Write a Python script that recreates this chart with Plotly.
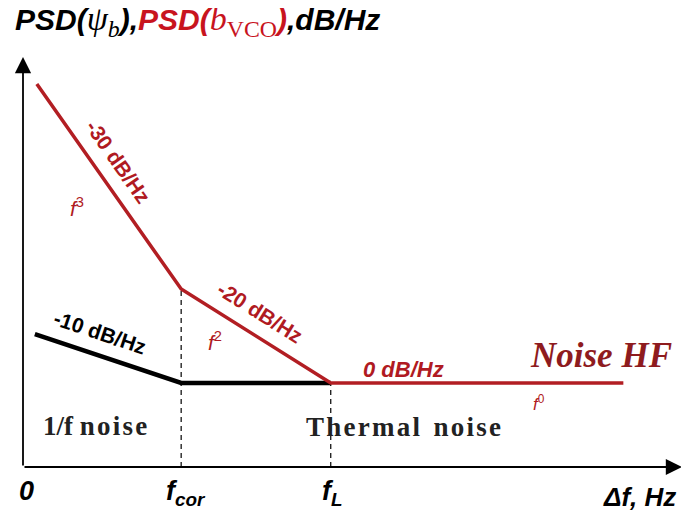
import plotly.graph_objects as go

# --- data (abstract units: x = frequency offset, y = PSD level) ---
red_x = [2.1, 24.0, 46.7, 91.1]
red_y = [93.4, 43.4, 20.5, 20.5]
black_x = [1.8, 24.0, 46.7]
black_y = [32.4, 20.5, 20.5]
f_cor = 24.0
f_L = 46.7
x_max = 100
y_max = 100

RED = "#B21E23"
TXT_RED = "#B01A22"
DARK_RED = "#8E1B1E"

fig = go.Figure()

# dashed verticals
fig.add_trace(go.Scatter(x=[f_cor, f_cor], y=[0, red_y[1]], mode="lines",
                         line=dict(color="black", width=1.2, dash="5px,4px"),
                         hoverinfo="skip", showlegend=False))
fig.add_trace(go.Scatter(x=[f_L, f_L], y=[0, red_y[2]], mode="lines",
                         line=dict(color="black", width=1.2, dash="5px,4px"),
                         hoverinfo="skip", showlegend=False))
# black PSD(psi_b)
fig.add_trace(go.Scatter(x=black_x, y=black_y, mode="lines",
                         line=dict(color="black", width=4.5),
                         hoverinfo="skip", showlegend=False))
# red PSD(b_VCO)
fig.add_trace(go.Scatter(x=red_x, y=red_y, mode="lines",
                         line=dict(color=RED, width=3.5),
                         hoverinfo="skip", showlegend=False))

ann = []
# axes arrows
ann.append(dict(x=x_max, y=0, ax=0, ay=0, xref="x", yref="y", axref="x", ayref="y",
                showarrow=True, arrowhead=2, arrowsize=1.8, arrowwidth=1.8,
                arrowcolor="black", text=""))
ann.append(dict(x=0, y=y_max, ax=0, ay=0, xref="x", yref="y", axref="x", ayref="y",
                showarrow=True, arrowhead=2, arrowsize=1.8, arrowwidth=1.8,
                arrowcolor="black", text=""))

sans_b = dict(family="Arial, Liberation Sans", size=21)
HS = "\u200a"
ann += [
    dict(x=14.4, y=74.4, text="<b>-30 dB/Hz</b>", textangle=55,
         font=dict(sans_b, color=TXT_RED)),
    dict(x=36.0, y=37.6, text="<b>-20 dB/Hz</b>", textangle=32,
         font=dict(sans_b, color=TXT_RED)),
    dict(x=11.7, y=32.7, text="<b>-10 dB/Hz</b>", textangle=18.5,
         font=dict(sans_b, color="black")),
    dict(x=57.7, y=23.9, text="<b><i>0 dB/Hz</i></b>",
         font=dict(family="Arial, Liberation Sans", size=22, color=TXT_RED)),
    dict(x=8.2, y=63.4, text="<i>f</i><sup>3</sup>",
         font=dict(family="Arial, Liberation Sans", size=21, color=TXT_RED)),
    dict(x=29.1, y=30.7, text="<i>f</i><sup>2</sup>",
         font=dict(family="Arial, Liberation Sans", size=21, color=TXT_RED)),
    dict(x=78.3, y=15.6, text="<i>f</i><sup>0</sup>",
         font=dict(family="Arial, Liberation Sans", size=17, color=TXT_RED)),
    dict(x=87.7, y=27.3, text="<b><i>Noise HF</i></b>",
         font=dict(family="Liberation Serif, Times New Roman", size=35, color=DARK_RED)),
    dict(x=10.9, y=10.0, text="<b>1/f " + HS.join("noise") + "</b>",
         font=dict(family="Liberation Serif, Times New Roman", size=27, color="#222222")),
    dict(x=57.7, y=9.8,
         text="<b>" + HS.join("Thermal") + "  " + HS.join("noise") + "</b>",
         font=dict(family="Liberation Serif, Times New Roman", size=27, color="#222222")),
    # axis tick labels
    dict(x=0.6, y=0, yshift=-24, text="<b><i>0</i></b>",
         font=dict(family="Arial, Liberation Sans", size=27, color="black")),
    dict(x=f_cor, y=0, yshift=-26, xshift=5, text="<b><i>f<sub>cor</sub></i></b>",
         font=dict(family="Arial, Liberation Sans", size=27, color="black")),
    dict(x=f_L, y=0, yshift=-26, xshift=2, text="<b><i>f<sub>L</sub></i></b>",
         font=dict(family="Arial, Liberation Sans", size=27, color="black")),
    dict(x=93.6, y=0, yshift=-30, text="<b><i>\u0394f, Hz</i></b>",
         font=dict(family="Arial, Liberation Sans", size=26, color="black")),
]
for a in ann:
    a.setdefault("xref", "x")
    a.setdefault("yref", "y")
    a.setdefault("showarrow", False)

# title (y-axis label)
SERIF = "font-family:'Liberation Serif';font-size:34px"
title_txt = ("<b><i>PSD(</i></b><span style=\"" + SERIF + "\"><i>\u03c8<sub>b</sub></i></span>"
             "<b><i>),</i></b>"
             "<span style=\"color:#C8141E\"><b><i>PSD(</i></b>"
             "<span style=\"" + SERIF + "\"><i>b</i><sub>VCO</sub></span>"
             "<b><i>)</i></b></span><b><i>,dB/Hz</i></b>")
ann.append(dict(xref="paper", yref="paper", text=title_txt, showarrow=False,
                x=(13 - 23) / 659, y=(467 - 21) / 410,
                xanchor="left", yanchor="middle",
                font=dict(family="Arial, Liberation Sans", size=30, color="black")))

# page body has an 8px default margin, so margins are offset by 8px
fig.update_layout(
    width=689, height=513,
    margin=dict(l=15, r=15, t=49, b=54),
    paper_bgcolor="white", plot_bgcolor="white",
    xaxis=dict(range=[0, x_max], visible=False, fixedrange=True),
    yaxis=dict(range=[0, y_max], visible=False, fixedrange=True),
    annotations=ann,
    showlegend=False,
)

fig.write_html("out.html")
